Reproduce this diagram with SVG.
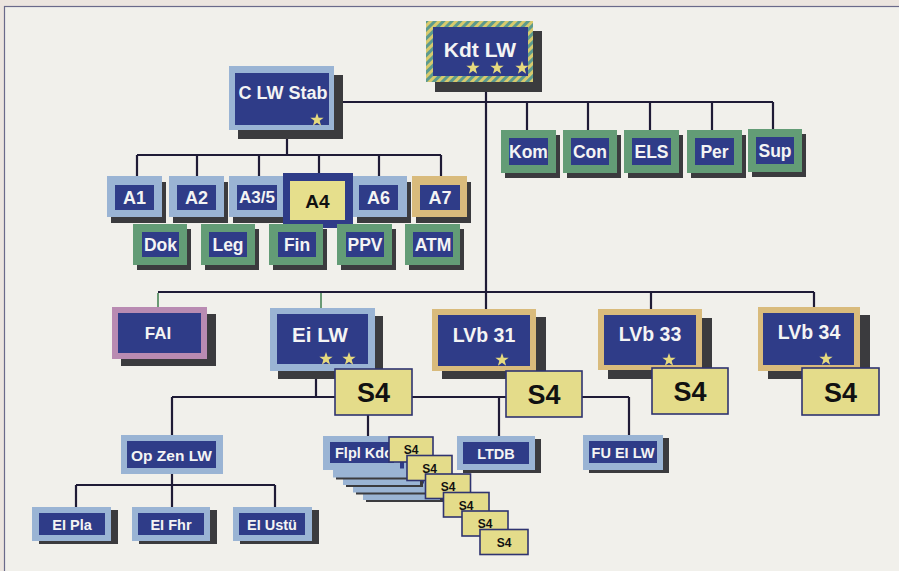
<svg xmlns="http://www.w3.org/2000/svg" xmlns:xlink="http://www.w3.org/1999/xlink" width="899" height="571" viewBox="0 0 899 571">
<defs>
<style>
.t{font-family:"Liberation Sans",Arial,sans-serif;font-weight:bold;fill:#f4f4f4;text-anchor:middle;dominant-baseline:central}
.k{fill:#111}
.nv{fill:#2f3c88}
.lb{fill:#9ab4d4}
.gr{fill:#639c76}
.tn{fill:#d9bb7c}
.mv{fill:#b98bb2}
.sh{fill:#3b3b3e}
.yl{fill:#e6df8c}
.s4{fill:#e4dc8a;stroke:#2f3470;stroke-width:1.6}
.ln{fill:none;stroke:#1f1b36;stroke-width:2.2}
.lg{fill:none;stroke:#6a9a74;stroke-width:2}
.st{fill:#e6da7e}
</style>
<pattern id="hatch" patternUnits="userSpaceOnUse" width="6" height="6" patternTransform="rotate(45)">
<rect width="6" height="6" fill="#5c9a8e"/>
<rect width="3" height="6" fill="#d8ca6c"/>
</pattern>
<path id="star" d="M0,-7 L1.65,-2.27 L6.66,-2.16 L2.66,0.87 L4.11,5.66 L0,2.8 L-4.11,5.66 L-2.66,0.87 L-6.66,-2.16 L-1.65,-2.27 Z"/>
</defs>
<rect width="899" height="571" fill="#ece5df"/>
<rect x="4.5" y="6.5" width="900" height="570" fill="#f1f0eb" stroke="#6a6a8a" stroke-width="1.2"/>

<g id="connectors">
<path class="ln" d="M486 82V309M343 102H773M527 102V130M588 102V130M650 102V130M712 102V130M773 102V129"/>
<path class="ln" d="M287 130V155M137 155H441M137 155V176M197 155V176M259 155V176M319 155V173M379 155V176M441 155V176"/>
<path class="ln" d="M158 292H814M651 292V309M814 292V307"/>
<path class="lg" d="M158 293V307M321 293V308"/>
<path class="ln" d="M316 371V397M172 397H629M172 397V435M368 415V436M499 397V436M629 397V435"/>
<path class="ln" d="M172 474V485M76 485H275M76 485V507M172 485V507M275 485V507"/>
</g>

<g id="kdt-lw">
<rect class="sh" x="435" y="31" width="107" height="61"/>
<rect x="426" y="21" width="107" height="61" fill="url(#hatch)"/>
<rect class="nv" x="433" y="27" width="95" height="49"/>
<text class="t" x="480" y="49" font-size="21">Kdt LW</text>
<use xlink:href="#star" class="st" x="473" y="68"/>
<use xlink:href="#star" class="st" x="497" y="68"/>
<use xlink:href="#star" class="st" x="522" y="68"/>
</g>

<g id="c-lw-stab">
<rect class="sh" x="238" y="75" width="105" height="64"/>
<rect class="lb" x="229" y="66" width="105" height="64"/>
<rect class="nv" x="235" y="73" width="94" height="52"/>
<text class="t" x="283" y="93" font-size="18">C LW Stab</text>
<use xlink:href="#star" class="st" x="317" y="120"/>
</g>

<g id="a1"><rect class="sh" x="111" y="182" width="55" height="41"/><rect class="lb" x="107" y="176" width="55" height="41"/><rect class="nv" x="115" y="185" width="39" height="25"/><text class="t" x="134.5" y="197.5" font-size="18">A1</text></g>
<g id="a2"><rect class="sh" x="173" y="182" width="55" height="41"/><rect class="lb" x="169" y="176" width="55" height="41"/><rect class="nv" x="177" y="185" width="39" height="25"/><text class="t" x="196.5" y="197.5" font-size="18">A2</text></g>
<g id="a35"><rect class="sh" x="233" y="182" width="55" height="41"/><rect class="lb" x="229" y="176" width="55" height="41"/><rect class="nv" x="237" y="185" width="40" height="25"/><text class="t" x="257" y="197.5" font-size="17">A3/5</text></g>
<g id="a6"><rect class="sh" x="357" y="182" width="54" height="41"/><rect class="lb" x="353" y="176" width="54" height="41"/><rect class="nv" x="359" y="185" width="39" height="25"/><text class="t" x="378.5" y="197.5" font-size="18">A6</text></g>
<g id="a7"><rect class="sh" x="416" y="182" width="55" height="41"/><rect class="tn" x="412" y="176" width="55" height="41"/><rect class="nv" x="420" y="185" width="40" height="25"/><text class="t" x="440" y="197.5" font-size="18">A7</text></g>
<g id="a4"><rect class="nv" x="283" y="173" width="70" height="55"/><rect class="yl" x="290" y="181" width="55" height="39"/><text class="t k" x="317.5" y="201" font-size="19">A4</text></g>

<g id="dok"><rect class="sh" x="137" y="229" width="54" height="41"/><rect class="gr" x="133" y="224" width="54" height="41"/><rect class="nv" x="142" y="232" width="37" height="25"/><text class="t" x="160.5" y="244.5" font-size="17.5">Dok</text></g>
<g id="leg"><rect class="sh" x="205" y="229" width="54" height="41"/><rect class="gr" x="201" y="224" width="54" height="41"/><rect class="nv" x="209" y="232" width="38" height="25"/><text class="t" x="228" y="244.5" font-size="17.5">Leg</text></g>
<g id="fin"><rect class="sh" x="273" y="229" width="54" height="41"/><rect class="gr" x="269" y="224" width="54" height="41"/><rect class="nv" x="278" y="232" width="38" height="25"/><text class="t" x="297" y="244.5" font-size="17.5">Fin</text></g>
<g id="ppv"><rect class="sh" x="341" y="229" width="55" height="41"/><rect class="gr" x="337" y="224" width="55" height="41"/><rect class="nv" x="346" y="232" width="38" height="25"/><text class="t" x="365" y="244.5" font-size="17.5">PPV</text></g>
<g id="atm"><rect class="sh" x="409" y="229" width="55" height="41"/><rect class="gr" x="405" y="224" width="55" height="41"/><rect class="nv" x="413" y="232" width="40" height="25"/><text class="t" x="433" y="244.5" font-size="17.5">ATM</text></g>

<g id="kom"><rect class="sh" x="505" y="135" width="55" height="43"/><rect class="gr" x="501" y="130" width="55" height="43"/><rect class="nv" x="509" y="138" width="39" height="27"/><text class="t" x="528.5" y="151.5" font-size="17.5">Kom</text></g>
<g id="con"><rect class="sh" x="567" y="135" width="54" height="43"/><rect class="gr" x="563" y="130" width="54" height="43"/><rect class="nv" x="571" y="138" width="38" height="27"/><text class="t" x="590" y="151.5" font-size="17.5">Con</text></g>
<g id="els"><rect class="sh" x="628" y="135" width="55" height="43"/><rect class="gr" x="624" y="130" width="55" height="43"/><rect class="nv" x="632" y="138" width="39" height="27"/><text class="t" x="651.5" y="151.5" font-size="17.5">ELS</text></g>
<g id="per"><rect class="sh" x="691" y="135" width="55" height="43"/><rect class="gr" x="687" y="130" width="55" height="43"/><rect class="nv" x="695" y="138" width="39" height="27"/><text class="t" x="714.5" y="151.5" font-size="17.5">Per</text></g>
<g id="sup"><rect class="sh" x="752" y="134" width="54" height="43"/><rect class="gr" x="748" y="129" width="54" height="43"/><rect class="nv" x="756" y="137" width="38" height="27"/><text class="t" x="775" y="150.5" font-size="17.5">Sup</text></g>

<g id="fai"><rect class="sh" x="121" y="314" width="95" height="52"/><rect class="mv" x="112" y="307" width="95" height="52"/><rect class="nv" x="118" y="313" width="83" height="40"/><text class="t" x="158" y="333" font-size="17">FAI</text></g>

<g id="ei-lw">
<rect class="sh" x="278" y="316" width="105" height="63"/>
<rect class="lb" x="270" y="308" width="105" height="63"/>
<rect class="nv" x="277" y="314" width="91" height="50"/>
<text class="t" x="320" y="334" font-size="20.5">Ei LW</text>
<use xlink:href="#star" class="st" x="326" y="359"/>
<use xlink:href="#star" class="st" x="349" y="359"/>
<rect class="s4" x="335" y="369" width="77" height="46"/>
<text class="t k" x="373.5" y="393" font-size="27">S4</text>
</g>

<g id="lvb-31">
<rect class="sh" x="442" y="317" width="104" height="62"/>
<rect class="tn" x="432" y="309" width="104" height="62"/>
<rect class="nv" x="438" y="315" width="92" height="51"/>
<text class="t" x="484" y="335" font-size="19.5">LVb 31</text>
<use xlink:href="#star" class="st" x="502" y="360"/>
<rect class="s4" x="506" y="371" width="76" height="46"/>
<text class="t k" x="544" y="395" font-size="27">S4</text>
</g>

<g id="lvb-33">
<rect class="sh" x="608" y="318" width="104" height="61"/>
<rect class="tn" x="598" y="309" width="104" height="61"/>
<rect class="nv" x="604" y="315" width="92" height="50"/>
<text class="t" x="650" y="334" font-size="19.5">LVb 33</text>
<use xlink:href="#star" class="st" x="669" y="360"/>
<rect class="s4" x="652" y="368" width="76" height="46"/>
<text class="t k" x="690" y="392" font-size="27">S4</text>
</g>

<g id="lvb-34">
<rect class="sh" x="768" y="315" width="102" height="64"/>
<rect class="tn" x="758" y="307" width="102" height="64"/>
<rect class="nv" x="763" y="313" width="91" height="52"/>
<text class="t" x="809" y="332" font-size="19.5">LVb 34</text>
<use xlink:href="#star" class="st" x="826" y="359"/>
<rect class="s4" x="802" y="368" width="77" height="47"/>
<text class="t k" x="840.5" y="392.5" font-size="27">S4</text>
</g>

<g id="op-zen-lw"><rect class="lb" x="121" y="435" width="102" height="39"/><rect class="nv" x="127" y="441" width="89" height="27"/><text class="t" x="171.5" y="455" font-size="15.5">Op Zen LW</text></g>

<g id="ei-pla"><rect class="sh" x="39" y="510" width="79" height="34"/><rect class="lb" x="32" y="507" width="79" height="34"/><rect class="nv" x="39" y="513" width="66" height="22"/><text class="t" x="72" y="524.5" font-size="14.5">EI Pla</text></g>
<g id="ei-fhr"><rect class="sh" x="139" y="510" width="78" height="34"/><rect class="lb" x="132" y="507" width="78" height="34"/><rect class="nv" x="138" y="513" width="66" height="22"/><text class="t" x="171" y="524.5" font-size="14.5">EI Fhr</text></g>
<g id="ei-ustu"><rect class="sh" x="240" y="510" width="79" height="34"/><rect class="lb" x="233" y="507" width="79" height="34"/><rect class="nv" x="239" y="513" width="66" height="22"/><text class="t" x="272" y="524.5" font-size="14.5">EI Ustü</text></g>

<g id="flpl-kdo">
<rect class="sh" x="366" y="468" width="77" height="34"/><rect class="lb" x="363" y="466" width="77" height="34"/><rect class="nv" x="370" y="472" width="64" height="19"/>
<rect class="sh" x="356" y="460.5" width="77" height="34"/><rect class="lb" x="353" y="458.5" width="77" height="34"/><rect class="nv" x="360" y="464.5" width="64" height="19"/>
<rect class="sh" x="346" y="453" width="77" height="34"/><rect class="lb" x="343" y="451" width="77" height="34"/><rect class="nv" x="350" y="457" width="64" height="19"/>
<rect class="sh" x="336" y="445.5" width="77" height="34"/><rect class="lb" x="333" y="443.5" width="77" height="34"/><rect class="nv" x="340" y="449.5" width="64" height="19"/>
<rect class="lb" x="323" y="436" width="77" height="34"/><rect class="nv" x="330" y="442" width="64" height="21"/>
<text class="t" x="335" y="453" font-size="14.5" style="text-anchor:start">Flpl Kdo</text>
</g>

<g id="s4-stack">
<rect class="s4" x="389" y="437" width="44" height="25"/><text class="t k" x="411" y="450" font-size="12">S4</text>
<rect class="s4" x="407" y="455.5" width="45" height="25"/><text class="t k" x="429.5" y="468.5" font-size="12">S4</text>
<rect class="s4" x="425.5" y="474" width="45" height="24.5"/><text class="t k" x="448" y="487" font-size="12">S4</text>
<rect class="s4" x="443.5" y="492.5" width="45.5" height="24.5"/><text class="t k" x="466" y="505.5" font-size="12">S4</text>
<rect class="s4" x="462" y="511" width="46" height="25"/><text class="t k" x="485" y="524" font-size="12">S4</text>
<rect class="s4" x="480" y="529.5" width="48" height="25"/><text class="t k" x="504" y="542.5" font-size="12">S4</text>
</g>

<g id="ltdb"><rect class="sh" x="463" y="439" width="78" height="34"/><rect class="lb" x="457" y="436" width="78" height="34"/><rect class="nv" x="463" y="442" width="66" height="22"/><text class="t" x="496" y="453.5" font-size="14.5">LTDB</text></g>
<g id="fu-ei-lw"><rect class="sh" x="589" y="438" width="80" height="35"/><rect class="lb" x="583" y="435" width="80" height="35"/><rect class="nv" x="589" y="441" width="68" height="22"/><text class="t" x="623" y="452.5" font-size="14.5">FU EI LW</text></g>
</svg>
